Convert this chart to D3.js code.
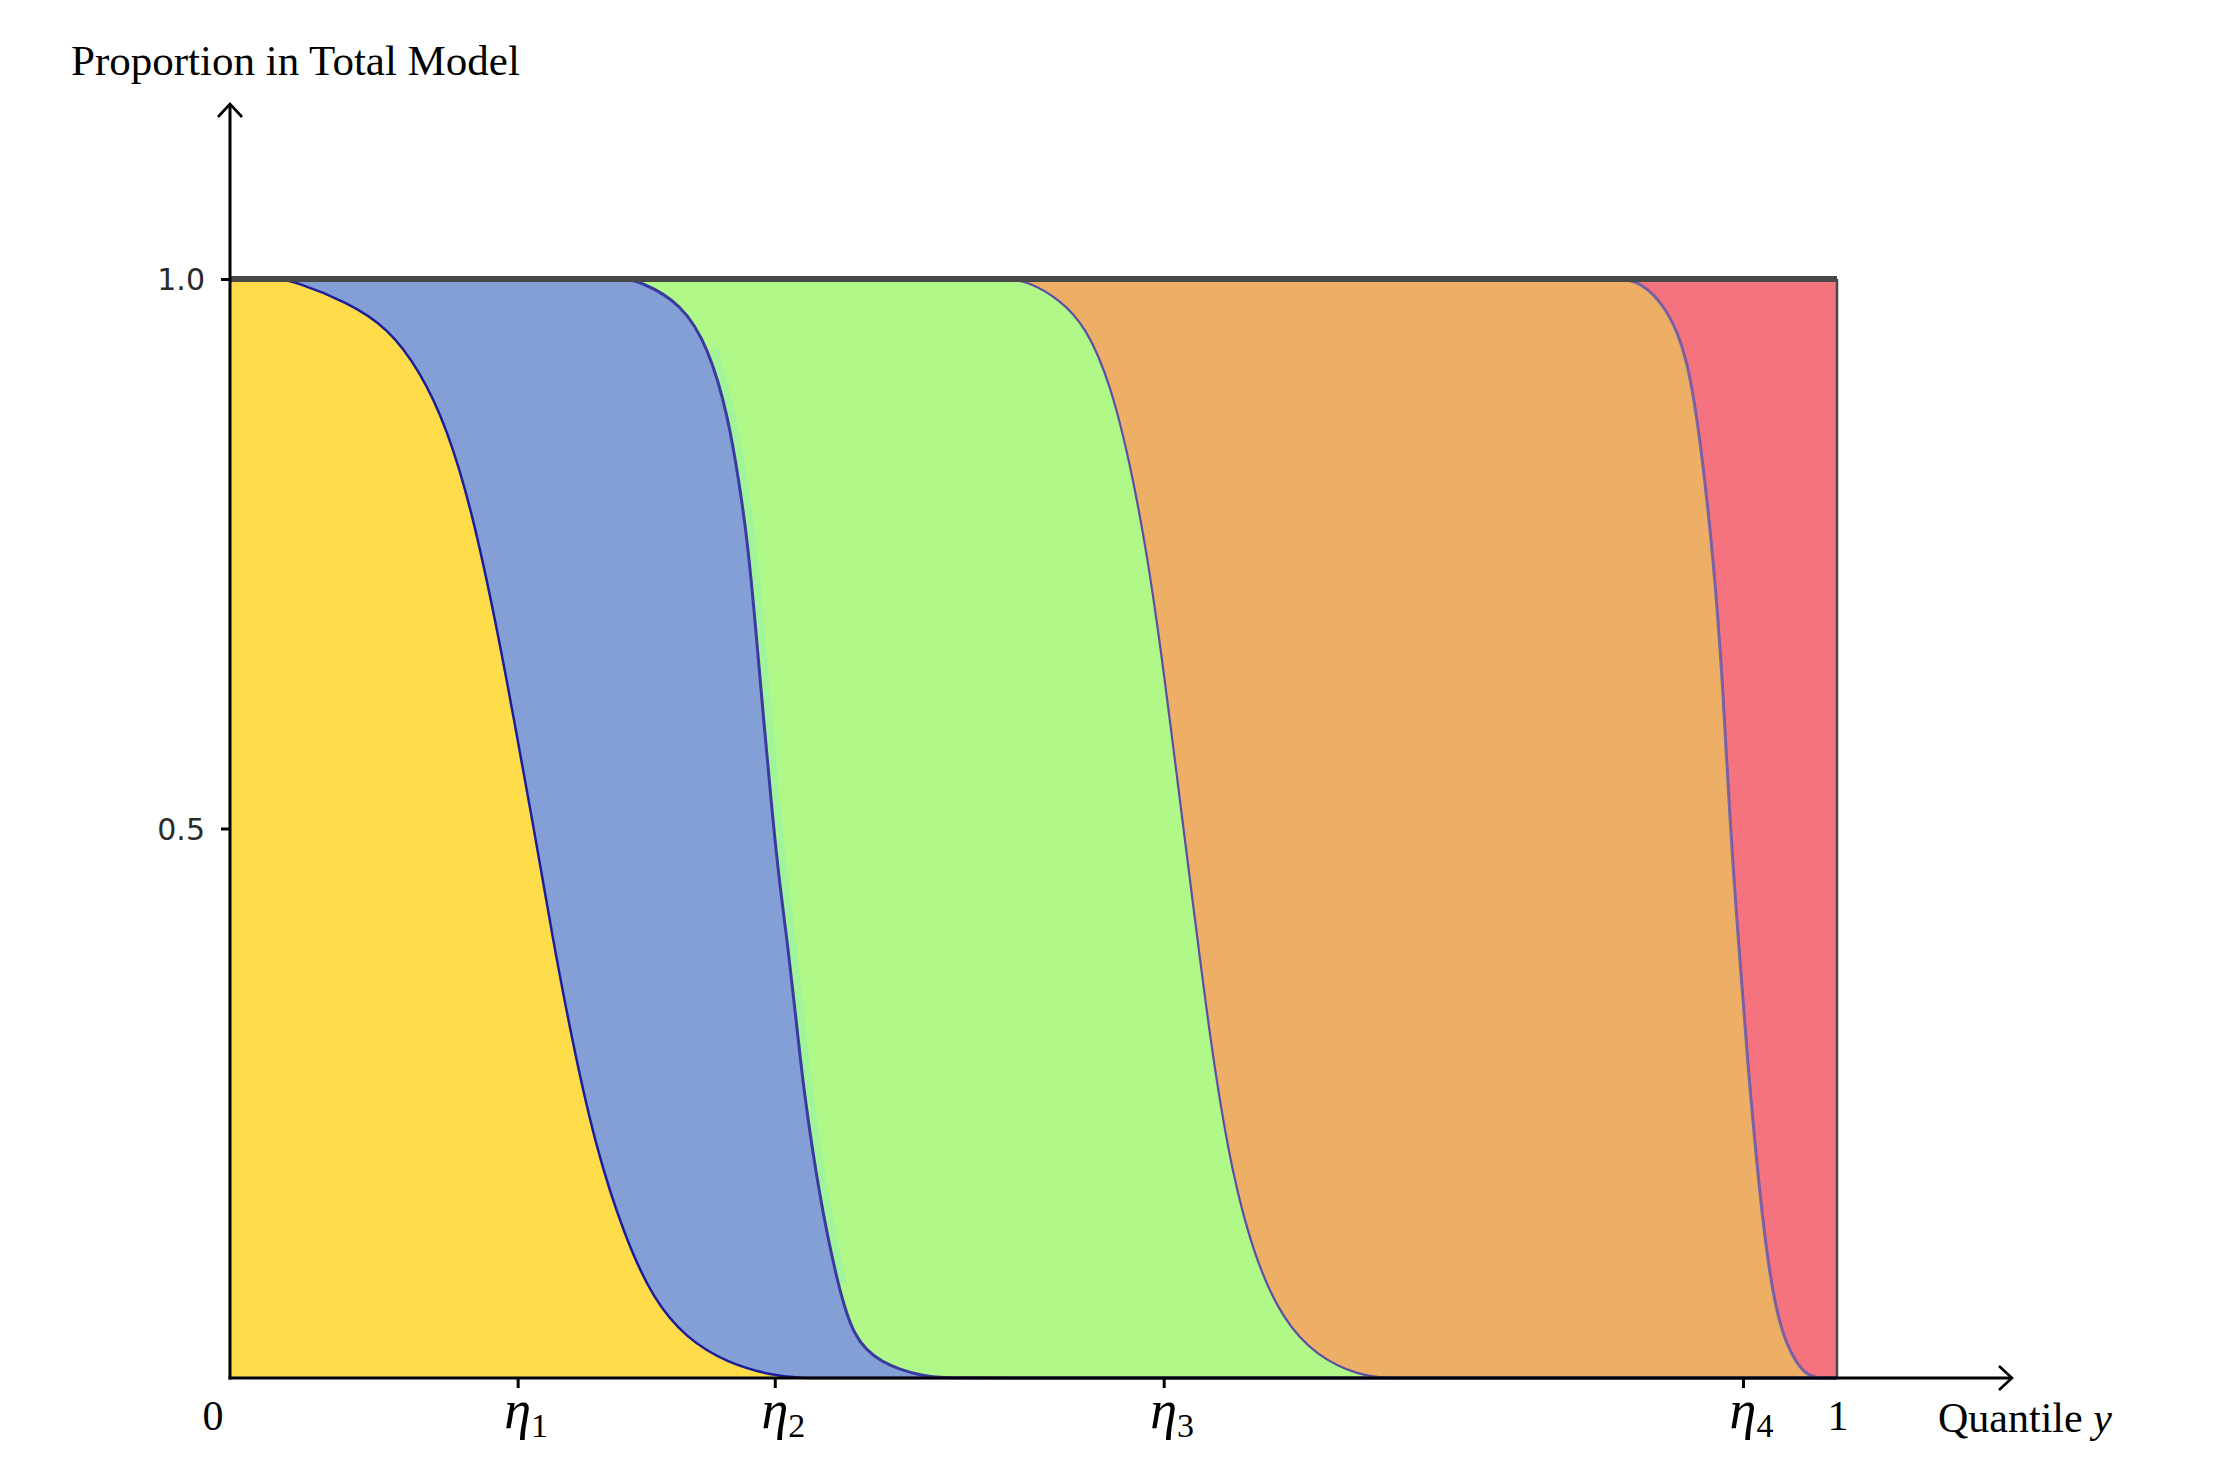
<!DOCTYPE html>
<html><head><meta charset="utf-8">
<script src="https://cdn.jsdelivr.net/npm/d3@7"></script>
<style>body{margin:0;background:#fff;} svg{display:block;}</style>
</head><body>
<script>
// ---- data: cumulative boundaries of stacked proportions (quantile y -> cumulative share)
const b1x = [0, 0.015, 0.030, 0.040, 0.073, 0.098, 0.118, 0.135, 0.151, 0.166, 0.176, 0.189, 0.201, 0.214, 0.228, 0.245, 0.263, 0.284, 0.309, 0.338, 0.355, 0.375, 0.40, 1];
const b1y = [1, 1, 1, 0.998, 0.979, 0.956, 0.917, 0.865, 0.787, 0.683, 0.605, 0.501, 0.398, 0.299, 0.208, 0.131, 0.072, 0.036, 0.014, 0.002, 0, 0, 0, 0];
const b2x = [0, 0.20, 0.230, 0.245, 0.255, 0.281, 0.298, 0.310, 0.317, 0.322, 0.327, 0.332, 0.337, 0.342, 0.347, 0.352, 0.357, 0.367, 0.378, 0.388, 0.404, 0.431, 0.45, 0.47, 1];
const b2y = [1, 1, 1, 1, 0.998, 0.978, 0.937, 0.875, 0.813, 0.762, 0.685, 0.600, 0.520, 0.449, 0.395, 0.330, 0.261, 0.163, 0.086, 0.036, 0.014, 0.001, 0, 0, 0];
const b3x = [0, 0.44, 0.470, 0.485, 0.496, 0.516, 0.533, 0.548, 0.560, 0.571, 0.581, 0.591, 0.600, 0.610, 0.622, 0.637, 0.655, 0.676, 0.703, 0.720, 0.74, 0.76, 1];
const b3y = [1, 1, 1, 1, 0.998, 0.982, 0.956, 0.904, 0.833, 0.748, 0.644, 0.527, 0.423, 0.307, 0.196, 0.111, 0.053, 0.020, 0.002, 0, 0, 0, 0];
const b4x = [0, 0.82, 0.850, 0.865, 0.877, 0.894, 0.907, 0.915, 0.923, 0.929, 0.933, 0.938, 0.944, 0.952, 0.960, 0.969, 0.981, 0.990, 1];
const b4y = [1, 1, 1, 1, 0.998, 0.975, 0.930, 0.853, 0.748, 0.631, 0.514, 0.410, 0.293, 0.163, 0.072, 0.026, 0.001, 0, 0];
const topX = [0, 1];
const topY = [1, 1];

const fillColors = ["#FFDD4A", "#849FD5", "#B0F988", "#EDAF66", "#F5737F"];
const edgeColors = ["#1E1E9C", "#3A3AA0", "#5A4EA6", "#5A55B0"];
const etaTicks = [0.179, 0.339, 0.581, 0.9415];
const etaSubs = ["1", "2", "3", "4"];
const yTicks = [0.5, 1.0];
const endLabels = ["0", "1"];
const titleText = "Proportion in Total Model";
const xAxisText = "Quantile ";
const xAxisVar = "y";

// ---- drawing
const W = 2216, H = 1484;
const svg = d3.select("body").append("svg").attr("width", W).attr("height", H);
const x = d3.scaleLinear().domain([0, 1]).range([230, 1837]);
const y = d3.scaleLinear().domain([0, 1]).range([1378, 279]);

const toPts = (xs, ys) => xs.map((v, i) => ({x: v, y: ys[i]}));
const layers = [toPts(topX, topY), toPts(b4x, b4y), toPts(b3x, b3y), toPts(b2x, b2y), toPts(b1x, b1y)];
const layerFill = [fillColors[4], fillColors[3], fillColors[2], fillColors[1], fillColors[0]];

const area = d3.area().x(d => x(d.x)).y0(y(0)).y1(d => y(d.y)).curve(d3.curveBasis);
const line = d3.line().x(d => x(d.x)).y(d => y(d.y)).curve(d3.curveBasis);

layers.forEach((pts, i) => {
  svg.append("path").attr("d", area(pts)).attr("fill", layerFill[i]);
});
// light fringe beside the middle of boundary 2
svg.append("path").attr("d", line(layers[3].slice(6, 19))).attr("fill", "none")
  .attr("stroke", "#A2F49A").attr("stroke-width", 8).attr("transform", "translate(5,0)");
svg.append("path").attr("d", area(layers[4])).attr("fill", fillColors[0]);

const strokeW = [2.5, 3, 2.2, 3];
[layers[4], layers[3], layers[2], layers[1]].forEach((pts, i) => {
  svg.append("path").attr("d", line(pts)).attr("fill", "none")
    .attr("stroke", edgeColors[i]).attr("stroke-width", strokeW[i]).attr("opacity", i === 3 ? 0.8 : 1);
});

// top line and right edge
svg.append("path").attr("d", line(layers[0])).attr("stroke", "#484848").attr("stroke-width", 6).attr("fill", "none");
svg.append("line").attr("x1", x(1)).attr("x2", x(1)).attr("y1", y(1)).attr("y2", y(0))
  .attr("stroke", "#484848").attr("stroke-width", 2.5);

// axes lines with arrows
svg.append("line").attr("x1", x(0)).attr("x2", x(0)).attr("y1", y(0) + 1.5).attr("y2", 104)
  .attr("stroke", "#000").attr("stroke-width", 3);
svg.append("path").attr("d", "M218,117 L230,104 L242,117").attr("fill", "none")
  .attr("stroke", "#000").attr("stroke-width", 2.6);
svg.append("line").attr("x1", x(0) - 1.5).attr("x2", 2012).attr("y1", y(0)).attr("y2", y(0))
  .attr("stroke", "#000").attr("stroke-width", 3);
svg.append("path").attr("d", "M1999,1366 L2012,1378 L1999,1390").attr("fill", "none")
  .attr("stroke", "#000").attr("stroke-width", 2.6);

// y axis ticks
const yAxis = svg.append("g").attr("transform", `translate(${x(0)},0)`)
  .call(d3.axisLeft(y).tickValues(yTicks).tickSize(9).tickPadding(16).tickFormat(d3.format(".1f")));
yAxis.select(".domain").remove();
yAxis.selectAll(".tick line").attr("stroke", "#000").attr("stroke-width", 3);
yAxis.selectAll(".tick text").attr("font-family", "DejaVu Sans").attr("font-size", 30)
  .attr("fill", "#2a2a2a").attr("dy", "0.36em");

// x axis ticks (eta)
const xAxis = svg.append("g").attr("transform", `translate(0,${y(0)})`)
  .call(d3.axisBottom(x).tickValues(etaTicks).tickSize(10).tickFormat(""));
xAxis.select(".domain").remove();
xAxis.selectAll(".tick line").attr("stroke", "#000").attr("stroke-width", 3);
xAxis.selectAll(".tick").each(function(d, i) {
  const t = d3.select(this).append("text").attr("x", 8).attr("y", 50)
    .attr("text-anchor", "middle").attr("font-family", "Liberation Serif").attr("fill", "#000");
  t.append("tspan").attr("font-style", "italic").attr("font-size", 54).text("η");
  t.append("tspan").attr("font-size", 34).attr("dy", 9).text(etaSubs[i]);
});

// end labels 0 and 1
svg.selectAll(".endlab").data([0, 1]).enter().append("text").attr("class", "endlab")
  .attr("x", d => x(d) + (d === 0 ? -17 : 1)).attr("y", 1430)
  .attr("text-anchor", "middle").attr("font-family", "Liberation Serif").attr("font-size", 42)
  .text((d, i) => endLabels[i]);

// titles
svg.append("text").attr("x", 71).attr("y", 75).attr("font-family", "Liberation Serif")
  .attr("font-size", 43).text(titleText);
const xt = svg.append("text").attr("x", 1938).attr("y", 1432).attr("font-family", "Liberation Serif")
  .attr("font-size", 42).text(xAxisText);
xt.append("tspan").attr("font-style", "italic").text(xAxisVar);
</script>
</body></html>
